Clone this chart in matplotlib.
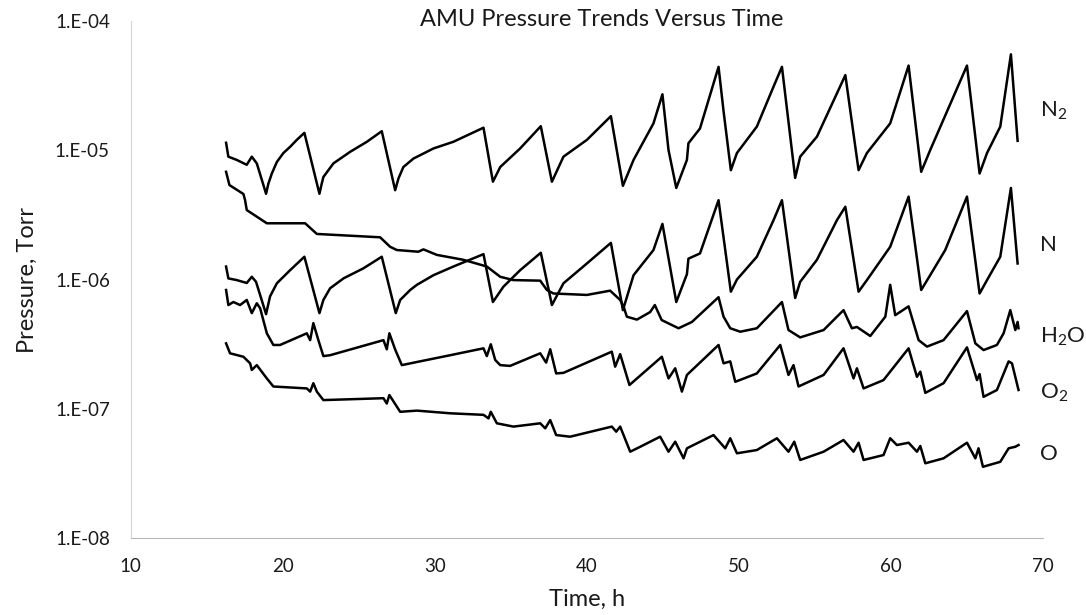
import matplotlib
matplotlib.use('Agg')
import matplotlib.pyplot as plt
from matplotlib.ticker import FixedLocator, FixedFormatter, NullLocator

# (time h, pressure Torr)
n2_points = [(16.27, 1.14e-5), (16.42, 8.9e-6), (16.97, 8.4e-6), (17.63, 7.7e-6), (17.96, 8.9e-6),
             (18.29, 7.9e-6), (18.90, 4.6e-6), (19.05, 5.5e-6), (19.28, 6.6e-6), (19.61, 8.1e-6),
             (20.04, 9.5e-6), (20.48, 1.06e-5), (20.92, 1.2e-5), (21.42, 1.36e-5), (22.41, 4.6e-6),
             (22.56, 5.5e-6), (22.67, 6.2e-6), (23.33, 7.9e-6), (24.43, 9.7e-6), (25.53, 1.16e-5),
             (26.51, 1.4e-5), (27.39, 4.9e-6), (27.61, 6.05e-6), (27.93, 7.4e-6), (28.59, 8.6e-6),
             (29.91, 1.03e-5), (31.22, 1.16e-5), (33.20, 1.49e-5), (33.82, 5.7e-6),
             (34.30, 7.4e-6), (35.61, 1.03e-5), (36.97, 1.53e-5), (37.70, 5.7e-6), (38.46, 8.9e-6),
             (40.00, 1.2e-5), (41.58, 1.83e-5), (42.37, 5.3e-6), (43.07, 8.4e-6), (44.38, 1.61e-5),
             (44.97, 2.7e-5), (45.37, 1.0e-5), (45.88, 5.1e-6), (46.58, 8.4e-6), (46.68, 1.13e-5),
             (47.44, 1.47e-5), (48.66, 4.4e-5), (48.99, 2.0e-5), (49.47, 7.0e-6), (49.87, 9.5e-6),
             (51.18, 1.52e-5), (52.28, 3.1e-5), (52.83, 4.4e-5), (53.70, 6.1e-6), (54.03, 8.9e-6),
             (55.13, 1.27e-5), (56.45, 2.75e-5), (57.00, 3.8e-5), (57.87, 7.0e-6), (58.42, 9.5e-6),
             (59.95, 1.61e-5), (61.16, 4.5e-5), (61.99, 6.8e-6), (62.58, 1.0e-5), (65.00, 4.5e-5),
             (65.83, 6.6e-6), (66.32, 9.5e-6), (67.19, 1.52e-5), (67.89, 5.5e-5), (68.33, 1.18e-5)]

n_points = [(16.27, 1.26e-6), (16.42, 1.02e-6), (16.97, 9.9e-7), (17.63, 9.4e-7), (17.96, 1.05e-6),
            (18.24, 9.6e-7), (18.90, 5.4e-7), (19.16, 7.4e-7), (19.61, 9.35e-7), (20.48, 1.18e-6),
            (21.42, 1.5e-6), (22.41, 5.5e-7), (22.67, 6.95e-7), (23.11, 8.55e-7), (23.99, 1.02e-6),
            (25.30, 1.22e-6), (26.51, 1.5e-6), (27.43, 5.5e-7), (27.72, 6.95e-7), (28.38, 8.3e-7),
            (28.82, 9.1e-7), (29.91, 1.08e-6), (31.22, 1.26e-6),
            (33.20, 1.57e-6), (33.82, 6.7e-7), (34.51, 8.8e-7), (35.61, 1.18e-6), (36.97, 1.61e-6),
            (37.70, 6.35e-7), (38.46, 9.35e-7), (40.00, 1.33e-6), (41.58, 1.92e-6), (42.37, 5.8e-7),
            (43.07, 1.08e-6), (44.38, 1.69e-6), (44.97, 2.69e-6), (45.88, 6.7e-7), (46.58, 1.1e-6),
            (46.68, 1.45e-6), (47.44, 1.59e-6), (48.66, 4.1e-6), (49.47, 8.05e-7), (49.87, 1.0e-6),
            (51.18, 1.5e-6), (52.28, 2.88e-6), (52.83, 4.1e-6), (53.70, 7.2e-7), (54.03, 9.6e-7),
            (55.13, 1.42e-6), (56.45, 2.88e-6), (57.00, 3.65e-6), (57.87, 8.05e-7), (58.42, 9.9e-7),
            (59.95, 1.79e-6), (61.16, 4.37e-6), (61.99, 8.3e-7), (62.58, 1.08e-6), (63.57, 1.69e-6),
            (65.00, 4.37e-6), (65.83, 7.8e-7), (66.32, 9.9e-7), (67.19, 1.5e-6), (67.89, 5.1e-6),
            (68.33, 1.33e-6)]

h2o_points = [(16.27, 6.8e-6), (16.49, 5.37e-6), (17.41, 4.58e-6), (17.52, 4.1e-6), (17.63, 3.44e-6),
              (18.29, 3.06e-6), (18.95, 2.72e-6), (21.47, 2.72e-6), (22.24, 2.25e-6), (26.40, 2.12e-6),
              (27.06, 1.79e-6), (27.50, 1.69e-6), (28.92, 1.64e-6), (29.25, 1.71e-6), (30.13, 1.55e-6),
              (31.88, 1.42e-6), (33.42, 1.26e-6), (34.30, 1.05e-6), (35.17, 9.9e-7), (36.93, 9.8e-7),
              (37.37, 8.3e-7), (37.80, 7.8e-7), (40.00, 7.6e-7), (41.53, 8.2e-7), (42.19, 6.95e-7),
              (42.41, 6.2e-7), (42.63, 5.16e-7), (43.29, 4.9e-7), (44.16, 5.6e-7), (44.47, 6.35e-7),
              (44.92, 4.86e-7), (46.03, 4.2e-7), (46.91, 4.7e-7), (48.66, 7.3e-7), (48.99, 5.16e-7),
              (49.43, 4.2e-7), (50.09, 3.95e-7), (51.18, 4.2e-7), (52.83, 6.7e-7), (53.26, 4.07e-7),
              (54.03, 3.57e-7), (55.57, 4.07e-7), (56.88, 5.8e-7), (57.43, 4.2e-7), (57.76, 4.3e-7),
              (58.64, 3.66e-7), (59.63, 5.16e-7), (59.95, 9.1e-7), (60.28, 5.3e-7), (61.16, 6.2e-7),
              (61.82, 3.4e-7), (62.37, 3.03e-7), (63.46, 3.4e-7), (65.00, 5.7e-7), (65.55, 3.21e-7),
              (66.09, 2.85e-7), (66.97, 3.12e-7), (67.41, 3.84e-7), (67.85, 5.8e-7), (68.18, 4.07e-7),
              (68.33, 4.7e-7), (68.39, 4.2e-7)]

o2_points = [(16.27, 8.3e-7), (16.42, 6.35e-7), (16.75, 6.7e-7), (17.19, 6.35e-7), (17.63, 6.95e-7),
             (17.96, 5.5e-7), (18.29, 6.55e-7), (18.51, 6.0e-7), (18.95, 3.84e-7), (19.38, 3.12e-7),
             (19.82, 3.12e-7), (21.58, 3.84e-7), (21.80, 3.4e-7), (22.01, 4.6e-7), (22.34, 3.4e-7),
             (22.67, 2.56e-7), (23.11, 2.6e-7), (26.62, 3.4e-7), (26.84, 2.89e-7), (27.01, 3.84e-7),
             (27.39, 2.88e-7), (27.83, 2.18e-7), (29.02, 2.33e-7), (31.01, 2.6e-7), (33.20, 2.94e-7),
             (33.42, 2.56e-7), (33.68, 3.16e-7), (33.97, 2.39e-7), (34.30, 2.18e-7), (34.95, 2.15e-7),
             (36.93, 2.69e-7), (37.32, 2.28e-7), (37.59, 2.89e-7), (37.98, 1.88e-7), (38.46, 1.9e-7),
             (41.64, 2.77e-7), (41.86, 2.12e-7), (42.19, 2.65e-7), (42.80, 1.53e-7), (44.93, 2.53e-7),
             (45.37, 1.72e-7), (45.81, 2.06e-7), (46.25, 1.36e-7), (46.58, 1.83e-7), (48.66, 3.12e-7),
             (48.99, 2.25e-7), (49.43, 2.33e-7), (49.76, 1.62e-7), (51.18, 1.88e-7), (52.72, 3.12e-7),
             (53.26, 1.83e-7), (53.59, 2.18e-7), (53.92, 1.49e-7), (55.57, 1.83e-7), (56.88, 2.94e-7),
             (57.54, 1.72e-7), (57.76, 2.06e-7), (58.20, 1.44e-7), (59.51, 1.67e-7), (61.16, 2.94e-7),
             (61.71, 1.77e-7), (61.93, 1.94e-7), (62.26, 1.33e-7), (63.46, 1.58e-7), (65.00, 2.99e-7),
             (65.66, 1.67e-7), (65.83, 1.86e-7), (66.09, 1.24e-7), (66.97, 1.4e-7), (67.74, 2.33e-7),
             (67.96, 2.25e-7), (68.39, 1.4e-7)]

o_points = [(16.27, 3.21e-7), (16.53, 2.69e-7), (17.41, 2.53e-7), (17.85, 2.25e-7), (17.96, 2.0e-7),
            (18.29, 2.18e-7), (18.95, 1.72e-7), (19.38, 1.49e-7), (21.58, 1.44e-7), (21.80, 1.36e-7),
            (22.01, 1.58e-7), (22.24, 1.36e-7), (22.67, 1.17e-7), (26.62, 1.21e-7), (26.84, 1.1e-7),
            (27.01, 1.28e-7), (27.72, 9.5e-8), (28.82, 9.7e-8), (31.01, 9.25e-8), (33.20, 9.0e-8),
            (33.53, 8.45e-8), (33.68, 9.5e-8), (34.08, 7.74e-8), (35.17, 7.3e-8), (36.93, 7.74e-8),
            (37.26, 7.08e-8), (37.59, 8.2e-8), (37.98, 6.28e-8), (38.90, 6.1e-8), (41.64, 7.3e-8),
            (41.93, 6.67e-8), (42.19, 7.3e-8), (42.85, 4.67e-8), (43.51, 5.1e-8), (44.82, 6.1e-8),
            (45.37, 4.67e-8), (45.81, 5.58e-8), (46.36, 4.15e-8), (46.58, 4.96e-8), (48.33, 6.28e-8),
            (49.10, 4.96e-8), (49.43, 5.93e-8), (49.87, 4.54e-8), (51.18, 4.81e-8), (52.50, 5.93e-8),
            (53.26, 4.67e-8), (53.64, 5.58e-8), (54.03, 4.03e-8), (55.57, 4.67e-8), (56.88, 5.75e-8),
            (57.54, 4.67e-8), (57.87, 5.48e-8), (58.20, 4.03e-8), (59.51, 4.4e-8), (59.95, 5.93e-8),
            (60.39, 5.26e-8), (61.16, 5.48e-8), (61.71, 4.67e-8), (61.93, 5.17e-8), (62.26, 3.8e-8),
            (63.46, 4.15e-8), (65.00, 5.48e-8), (65.55, 4.15e-8), (65.76, 4.96e-8), (66.05, 3.57e-8),
            (67.19, 3.9e-8), (67.74, 4.96e-8), (68.18, 5.1e-8), (68.39, 5.26e-8)]

series_labels = [r'N$_2$', 'N', r'H$_2$O', r'O$_2$', 'O']
label_pos = [2.0e-5, 1.85e-6, 3.6e-7, 1.32e-7, 4.48e-8]

y_ticks = [1e-8, 1e-7, 1e-6, 1e-5, 1e-4]
y_tick_labels = ['1.E-08', '1.E-07', '1.E-06', '1.E-05', '1.E-04']
x_ticks = [10, 20, 30, 40, 50, 60, 70]

plt.rcParams['font.family'] = ['Lato', 'DejaVu Sans']
plt.rcParams['mathtext.fontset'] = 'custom'
plt.rcParams['mathtext.rm'] = 'Lato'
plt.rcParams['mathtext.it'] = 'Lato'
txt = '#1a1a1a'

fig = plt.figure(figsize=(10.86, 6.15), dpi=100)
ax = fig.add_axes([0.1204, 0.1247, 0.8400, 0.8416])

for pts in [n2_points, n_points, h2o_points, o2_points, o_points]:
    t = [p[0] for p in pts]
    v = [p[1] for p in pts]
    ax.plot(t, v, color='black', lw=1.8, solid_joinstyle='round')

ax.set_yscale('log')
ax.set_ylim(1e-8, 1e-4)
ax.set_xlim(10, 70)
ax.yaxis.set_major_locator(FixedLocator(y_ticks))
ax.yaxis.set_major_formatter(FixedFormatter(y_tick_labels))
ax.yaxis.set_minor_locator(NullLocator())
ax.set_xticks(x_ticks)
ax.tick_params(length=0, labelsize=13.5, colors=txt)
ax.tick_params(axis='y', pad=15)
ax.tick_params(axis='x', pad=14)

for s in ['top', 'right']:
    ax.spines[s].set_visible(False)
ax.spines['left'].set_color('#d4d4d4')
ax.spines['bottom'].set_color('#b8b8b8')

for lab, yv in zip(series_labels, label_pos):
    ax.text(69.8, yv, lab, fontsize=16, color=txt, va='center', ha='left', clip_on=False)

ax.set_xlabel('Time, h', fontsize=17, color=txt, labelpad=10)
ax.set_ylabel('Pressure, Torr', fontsize=17, color=txt, labelpad=12)
fig.text(0.554, 0.968, 'AMU Pressure Trends Versus Time', fontsize=17, color=txt,
         ha='center', va='center')

fig.savefig('out.png', dpi=100)
